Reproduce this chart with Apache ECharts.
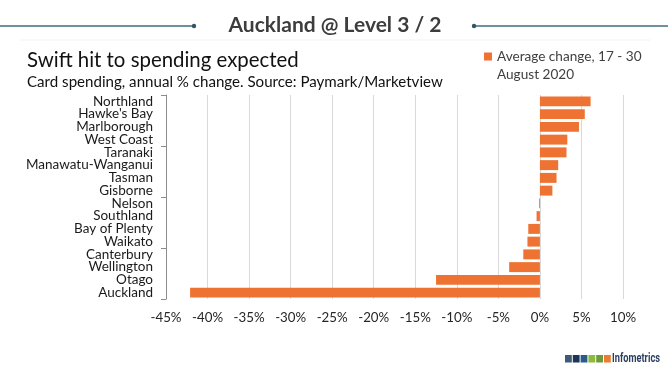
<!DOCTYPE html>
<html>
<head>
<meta charset="utf-8">
<script src="https://cdn.jsdelivr.net/npm/echarts@6/dist/echarts.min.js"></script>
<style>
html,body{margin:0;padding:0;background:#fff;}
#chart{width:668px;height:371px;}
</style>
</head>
<body>
<div id="chart"></div>
<script>
// ---- data ----
var regions = ["Northland","Hawke's Bay","Marlborough","West Coast","Taranaki","Manawatu-Wanganui","Tasman","Gisborne","Nelson","Southland","Bay of Plenty","Waikato","Canterbury","Wellington","Otago","Auckland"];
var avgChange = [6.1, 5.4, 4.7, 3.3, 3.2, 2.2, 2.0, 1.5, -0.1, -0.4, -1.4, -1.5, -2.0, -3.7, -12.5, -42.1];
var seriesName = "Average change, 17 - 30\nAugust 2020";
var xTickMin = -45, xTickMax = 10, xTickStep = 5;
var headerText = "Auckland @ Level 3 / 2";
var titleText = "Swift hit to spending expected";
var subtitleText = "Card spending, annual % change. Source: Paymark/Marketview";
var logoText = "Infometrics";
var logoColors = ["#3e5a74","#1d3557","#2d5a8c","#8cbb3c","#6f9a3b","#ef7b31"];

var BODY = "Lato, 'Liberation Sans', sans-serif";
var chart = echarts.init(document.getElementById('chart'), null, {renderer:'canvas'});

var graphics = [
  {type:'line', shape:{x1:0,y1:26,x2:194,y2:26}, style:{stroke:'#3f6b7c', lineWidth:1.3}},
  {type:'circle', shape:{cx:194,cy:26,r:2.2}, style:{fill:'#2f5566'}},
  {type:'line', shape:{x1:474,y1:26,x2:668,y2:26}, style:{stroke:'#3f6b7c', lineWidth:1.3}},
  {type:'circle', shape:{cx:474,cy:26,r:2.2}, style:{fill:'#2f5566'}},
  {type:'line', shape:{x1:20,y1:40,x2:650,y2:40}, style:{stroke:'#f2f2f2', lineWidth:1}},
  {type:'text', x:335, y:25.5, style:{text:headerText, textAlign:'center', textVerticalAlign:'middle', font:"bold 21px Lato, sans-serif", fill:'#3d3d3d'}},
  {type:'text', x:27, y:60, style:{text:titleText, textAlign:'left', textVerticalAlign:'middle', font:"20.4px " + BODY, fill:'#111111'}},
  {type:'text', x:27, y:82.5, style:{text:subtitleText, textAlign:'left', textVerticalAlign:'middle', font:"15.1px " + BODY, fill:'#111111'}},
  {type:'text', x:612, y:358.5, scaleX:0.74, style:{text:logoText, textAlign:'left', textVerticalAlign:'middle', font:"bold 12.5px Roboto, sans-serif", fill:'#2b3f5e'}}
];
logoColors.forEach(function(c, i){
  graphics.push({type:'rect', shape:{x:565 + i*7.8, y:355, width:6.8, height:7.5}, style:{fill:c}});
});

chart.setOption({
  animation:false,
  backgroundColor:'#ffffff',
  grid:{left:166, right:45, top:95, bottom:72, containLabel:false},
  legend:{
    show:true, left:484, top:29.5, padding:0, itemWidth:8, itemHeight:8, itemGap:4,
    icon:'rect',
    formatter:function(name){ return '\n' + name; },
    textStyle:{fontFamily:BODY, fontSize:13.6, color:'#404040', lineHeight:18},
    data:[seriesName]
  },
  xAxis:{
    type:'value', min:xTickMin, max:xTickMax, interval:xTickStep,
    axisLine:{show:false}, axisTick:{show:false},
    splitLine:{show:true, lineStyle:{color:'#d9d9d9', width:1}},
    axisLabel:{formatter:'{value}%', fontFamily:BODY, fontSize:13.3, color:'#262626', margin:12}
  },
  yAxis:[
    {
      type:'category', data:regions, inverse:true,
      axisLine:{show:false}, axisTick:{show:false},
      axisLabel:{fontFamily:BODY, fontSize:13.5, color:'#1a1a1a', margin:13, interval:0}
    },
    {
      type:'category', data:regions, inverse:true, position:'left',
      axisLine:{show:true, onZero:true, lineStyle:{color:'#8c8c8c', width:1}},
      axisTick:{show:true, interval:3, length:5, lineStyle:{color:'#8c8c8c'}},
      axisLabel:{show:false}, splitLine:{show:false}
    }
  ],
  series:[{
    name:seriesName, type:'bar', yAxisIndex:0, data:avgChange,
    barCategoryGap:'22%', itemStyle:{color:'#ee7232'}
  }],
  graphic:graphics
});
</script>
</body>
</html>
